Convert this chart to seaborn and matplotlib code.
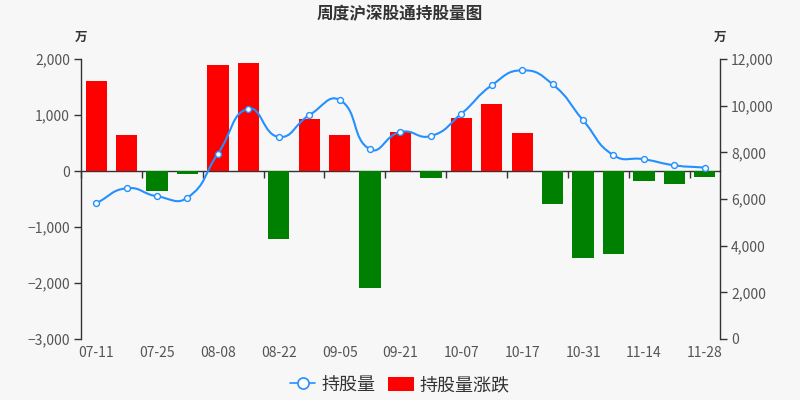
import numpy as np
import pandas as pd
import matplotlib
matplotlib.use("Agg")
import matplotlib.pyplot as plt
import seaborn as sns
from matplotlib.path import Path
from matplotlib.patches import PathPatch, Patch
from matplotlib.lines import Line2D
from matplotlib.ticker import FuncFormatter

# ---- data ----
dates = ["07-11", "07-18", "07-25", "08-01", "08-08", "08-15", "08-22", "08-29",
         "09-05", "09-14", "09-21", "09-28", "10-07", "10-10", "10-17", "10-24",
         "10-31", "11-07", "11-14", "11-21", "11-28"]
change = [1600, 650, -350, -55, 1890, 1930, -1210, 935, 648, -2095, 700, -130,
          955, 1195, 675, -590, -1555, -1490, -175, -240, -100]
holding = [5820, 6460, 6115, 6060, 7945, 9870, 8660, 9590, 10245, 8130, 8875, 8700,
           9655, 10875, 11515, 10915, 9375, 7875, 7705, 7445, 7345]
left_ticks = [-3000, -2000, -1000, 0, 1000, 2000]
right_ticks = [0, 2000, 4000, 6000, 8000, 10000, 12000]

BG = "#f7f7f7"
RED = "#ff0000"
GREEN = "#008000"
BLUE = "#2490ff"
AXC = "#333333"
LBC = "#555555"

sns.set_style("white")
plt.rcParams["font.family"] = ["Noto Sans CJK SC", "DejaVu Sans"]
plt.rcParams["axes.unicode_minus"] = True

fig = plt.figure(figsize=(8, 4), dpi=100, facecolor=BG)
ax = fig.add_axes([81/800, 1-339/400, (720-81)/800, 280/400])
ax.set_facecolor(BG)

df = pd.DataFrame({"date": dates, "change": change})
df["sign"] = np.where(df["change"] >= 0, "up", "down")
sns.barplot(data=df, x="date", y="change", hue="sign", order=dates,
            palette={"up": RED, "down": GREEN}, dodge=False, width=0.7,
            legend=False, ax=ax, saturation=1, edgecolor="none")

ax.set_xlim(-0.5, len(dates) - 0.5)
ax.set_ylim(left_ticks[0], left_ticks[-1])
ax.set_yticks(left_ticks)
fmt = FuncFormatter(lambda v, p: ("\u2212" if v < 0 else "") + f"{abs(int(v)):,}")
ax.yaxis.set_major_formatter(fmt)
ax.set_xticks(range(0, len(dates), 2))
ax.set_xticklabels(dates[::2])
ax.set_xlabel("")
ax.set_ylabel("")
ax.tick_params(axis="x", length=0, pad=5, labelsize=10, labelcolor=LBC)
ax.tick_params(axis="y", length=5, width=1, color=AXC, direction="out", pad=3,
               labelsize=10, labelcolor=LBC)
for s in ["top", "right", "bottom"]:
    ax.spines[s].set_visible(False)
ax.spines["left"].set_color(AXC)
ax.spines["left"].set_linewidth(1)

# x axis line at zero with boundary ticks
zero_frac = (0 - left_ticks[0]) / (left_ticks[-1] - left_ticks[0])
sec = ax.secondary_xaxis(zero_frac)
sec.set_xticks([i - 0.5 for i in range(0, len(dates), 2)])
sec.xaxis.set_ticks_position("bottom")
sec.tick_params(axis="x", direction="out", length=5, width=1, color=AXC,
                labelbottom=False, labeltop=False)
for s in sec.spines.values():
    s.set_color(AXC)
    s.set_linewidth(1)

# right axis with smooth line
ax2 = ax.twinx()
ax2.set_ylim(right_ticks[0], right_ticks[-1])
ax2.set_yticks(right_ticks)
ax2.yaxis.set_major_formatter(fmt)
ax2.tick_params(axis="y", length=5, width=1, color=AXC, direction="out", pad=3,
                labelsize=10, labelcolor=LBC)
for s in ["top", "left", "bottom"]:
    ax2.spines[s].set_visible(False)
ax2.spines["right"].set_color(AXC)
ax2.spines["right"].set_linewidth(1)
ax2.set_xlim(ax.get_xlim())

xs = np.arange(len(dates), dtype=float)
pts = ax2.transData.transform(np.column_stack([xs, holding]))
smooth = 0.5
n = len(pts)
verts = [pts[0]]
codes = [Path.MOVETO]
cps_out = []
cps_in = []
for i in range(n):
    p = pts[i]
    prev = pts[i - 1] if i > 0 else p
    nxt = pts[i + 1] if i < n - 1 else p
    v = nxt - prev
    d0 = np.hypot(*(p - prev))
    d1 = np.hypot(*(nxt - p))
    tot = d0 + d1
    r1 = d1 / tot if tot > 0 else 0.5
    cps_out.append(p + v * smooth * r1)
    cps_in.append(p - v * smooth * (1 - r1))
for i in range(n - 1):
    verts += [cps_out[i], cps_in[i + 1], pts[i + 1]]
    codes += [Path.CURVE4] * 3
inv = ax2.transData.inverted()
path = Path(inv.transform(np.array(verts)), codes)
ax2.add_patch(PathPatch(path, facecolor="none", edgecolor=BLUE, lw=1.5,
                        transform=ax2.transData, zorder=3))
ldf = pd.DataFrame({"x": xs, "holding": holding})
sns.scatterplot(data=ldf, x="x", y="holding", ax=ax2, s=18, color="white",
                edgecolor=BLUE, linewidth=1.0, zorder=4, legend=False)
ax2.set_xlabel("")
ax2.set_ylabel("")

# titles and units
fig.text(0.5, 1 - 14/400, "周度沪深股通持股量图", ha="center", va="center",
         fontsize=12, fontweight="bold", color="#333333")
fig.text(81/800, 1 - 37/400, "万", ha="center", va="center", fontsize=9,
         fontweight="bold", color="#333333")
fig.text(720/800, 1 - 37/400, "万", ha="center", va="center", fontsize=9,
         fontweight="bold", color="#333333")

handles = [
    Line2D([0], [0], color=BLUE, lw=1.2, marker="o", markersize=8,
           markerfacecolor="white", markeredgecolor=BLUE, markeredgewidth=1.2),
    Patch(facecolor=RED, edgecolor="none"),
]
fig.legend(handles, ["持股量", "持股量涨跌"], loc="center",
           bbox_to_anchor=(0.5, 1 - 385/400), ncol=2, frameon=False,
           fontsize=13, handlelength=1.4, handleheight=0.8, columnspacing=0.7,
           handletextpad=0.35, labelcolor="#333333")

fig.savefig("out.png", dpi=100, facecolor=BG)
